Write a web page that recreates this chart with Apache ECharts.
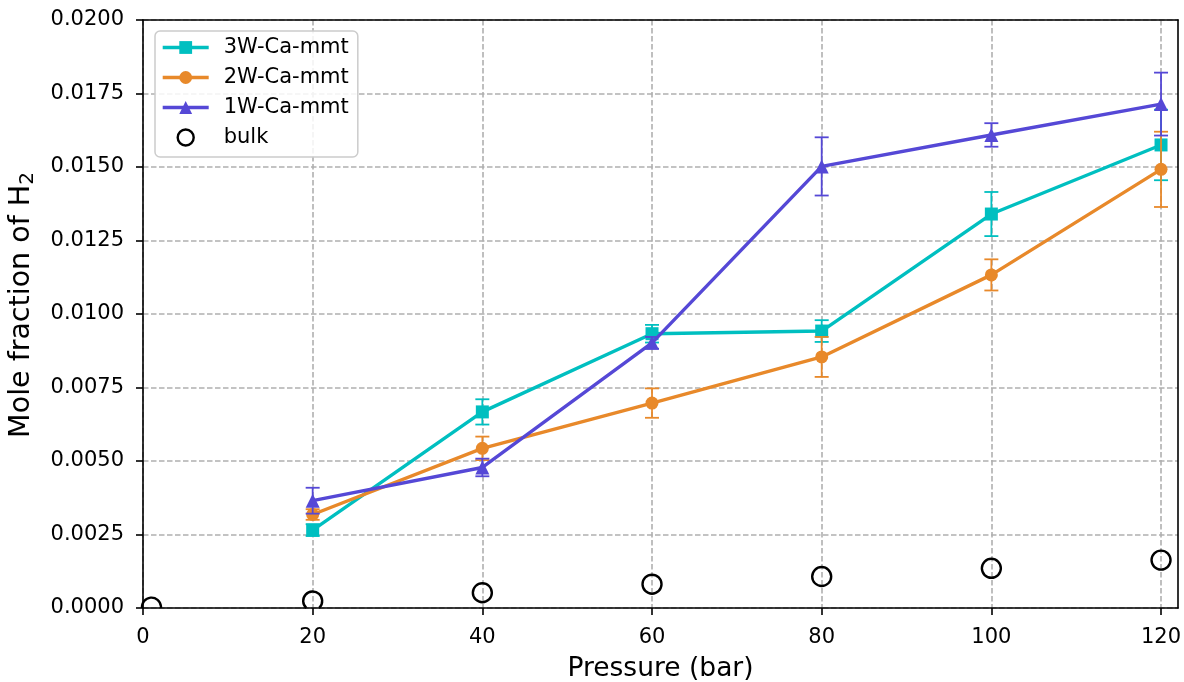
<!DOCTYPE html>
<html>
<head>
<meta charset="utf-8">
<title>Mole fraction of H2 vs pressure</title>
<script src="https://cdn.jsdelivr.net/npm/echarts@6/dist/echarts.min.js"></script>
<style>
  html, body { margin: 0; padding: 0; background: #fff; }
  #chart { width: 1184px; height: 682px; }
</style>
</head>
<body>
<div id="chart"></div>
<script>
// Pressure (bar) of the clay systems
const pressure = [20, 40, 60, 80, 100, 120];

// Mole fraction of H2 and its standard error, per hydration state
const w3 = [0.00265, 0.00667, 0.00933, 0.00942, 0.01340, 0.01575];
const w3Err = [0.00020, 0.00043, 0.00030, 0.00037, 0.00075, 0.00120];
const w2 = [0.00318, 0.00543, 0.00697, 0.00854, 0.01133, 0.01492];
const w2Err = [0.00018, 0.00040, 0.00050, 0.00068, 0.00053, 0.00128];
const w1 = [0.00365, 0.00478, 0.00902, 0.01502, 0.01609, 0.01714];
const w1Err = [0.00044, 0.00030, 0.00020, 0.00099, 0.00040, 0.00107];

// Bulk solubility reference
const bulkPressure = [1, 20, 40, 60, 80, 100, 120];
const bulk = [0.00003, 0.00024, 0.00052, 0.00081, 0.00107, 0.00135, 0.00163];

const xTicks = [0, 20, 40, 60, 80, 100, 120];
const seriesNames = ['3W-Ca-mmt', '2W-Ca-mmt', '1W-Ca-mmt', 'bulk'];

const COLORS = { w3: '#00bfc0', w2: '#e8892a', w1: '#5548d6' };
const FONT = 'DejaVu Sans';
const X_MIN = 0, X_MAX = 122, Y_MIN = 0, Y_MAX = 0.02;

function errorBarSeries(name, vals, errs, color, z) {
  return {
    type: 'custom',
    name: name + ' err',
    z: z,
    silent: true,
    encode: { x: 0, y: 1 },
    data: pressure.map((p, i) => [p, vals[i], errs[i]]),
    renderItem: function (params, api) {
      const x = api.value(0), y = api.value(1), e = api.value(2);
      const top = api.coord([x, y + e]);
      const bot = api.coord([x, y - e]);
      const half = 7;
      const st = { stroke: color, lineWidth: 1.8 };
      return {
        type: 'group',
        children: [
          { type: 'line', shape: { x1: top[0], y1: top[1], x2: bot[0], y2: bot[1] }, style: st },
          { type: 'line', shape: { x1: top[0] - half, y1: top[1], x2: top[0] + half, y2: top[1] }, style: st },
          { type: 'line', shape: { x1: bot[0] - half, y1: bot[1], x2: bot[0] + half, y2: bot[1] }, style: st }
        ]
      };
    }
  };
}

function lineSeries(name, vals, color, symbol, size, z) {
  return {
    type: 'line',
    name: name,
    z: z,
    data: pressure.map((p, i) => [p, vals[i]]),
    symbol: symbol,
    symbolSize: size,
    showAllSymbol: true,
    itemStyle: { color: color },
    lineStyle: { color: color, width: 3.4 },
    emphasis: { disabled: true }
  };
}

// Hollow circles, cut off at the bottom of the plotting area
const bulkSeries = {
  type: 'custom',
  name: 'bulk',
  z: 20,
  encode: { x: 0, y: 1 },
  data: bulkPressure.map((p, i) => [p, bulk[i]]),
  renderItem: function (params, api) {
    const c = api.coord([api.value(0), api.value(1)]);
    const r = 9.5;
    const yb = params.coordSys.y + params.coordSys.height;
    let start = 0, end = Math.PI * 2;
    if (c[1] + r > yb) {
      const a = Math.asin(Math.max(-1, Math.min(1, (yb - c[1]) / r)));
      start = Math.PI - a;
      end = Math.PI * 2 + a;
    }
    return {
      type: 'arc',
      shape: { cx: c[0], cy: c[1], r: r, startAngle: start, endAngle: end, clockwise: true },
      style: { stroke: '#000', lineWidth: 2.4, fill: null }
    };
  }
};

const frameLine = { show: true, onZero: false, lineStyle: { color: '#000', width: 1.6 } };
const gridLine = { show: true, lineStyle: { color: '#b0b0b0', width: 1.6, type: [5.5, 2.5] } };

const chart = echarts.init(document.getElementById('chart'), null, { renderer: 'canvas' });

chart.setOption({
  animation: false,
  textStyle: { fontFamily: FONT },
  grid: { left: 143, right: 6, top: 20, bottom: 74, outerBoundsMode: 'none', containLabel: false },
  legend: {
    orient: 'vertical',
    left: 155, top: 31,
    data: [
      { name: seriesNames[0] },
      { name: seriesNames[1] },
      { name: seriesNames[2] },
      { name: seriesNames[3], icon: 'circle', itemStyle: { color: '#fff', borderColor: '#000', borderWidth: 2.4 } }
    ],
    itemWidth: 46,
    itemHeight: 16,
    itemGap: 9,
    padding: [6, 9, 9, 6],
    backgroundColor: 'rgba(255,255,255,0.85)',
    borderColor: '#cccccc',
    borderWidth: 1.5,
    borderRadius: 5,
    lineStyle: { width: 3.4 },
    textStyle: { fontSize: 21, color: '#000', fontFamily: FONT, lineHeight: 21, padding: [0, 0, 0, 10] }
  },
  xAxis: [{
    type: 'value',
    min: X_MIN, max: X_MAX, interval: 20,
    name: 'Pressure (bar)',
    nameLocation: 'middle',
    nameGap: 48,
    nameTextStyle: { fontSize: 26.5, color: '#000', fontFamily: FONT },
    axisLine: frameLine,
    axisTick: { show: true, length: 7, customValues: xTicks, lineStyle: { color: '#000', width: 1.6 } },
    axisLabel: { fontSize: 21, color: '#000', margin: 19, customValues: xTicks, fontFamily: FONT },
    splitLine: gridLine
  }, {
    // top frame edge
    type: 'value', position: 'top', min: X_MIN, max: X_MAX, z: 5,
    axisLine: frameLine, axisTick: { show: false }, axisLabel: { show: false }, splitLine: { show: false }
  }],
  yAxis: [{
    type: 'value',
    min: Y_MIN, max: Y_MAX, interval: 0.0025,
    name: 'Mole fraction of H{sub|2}',
    nameLocation: 'middle',
    nameGap: 105,
    nameTextStyle: {
      fontSize: 28.5, color: '#000', fontFamily: FONT, lineHeight: 32, padding: [0, 0, 0, 18],
      rich: { sub: { fontSize: 20, lineHeight: 15, verticalAlign: 'bottom', color: '#000', fontFamily: FONT } }
    },
    axisLine: frameLine,
    axisTick: { show: true, length: 7, lineStyle: { color: '#000', width: 1.6 } },
    axisLabel: { fontSize: 21, color: '#000', margin: 19, fontFamily: FONT, formatter: v => v.toFixed(4) },
    splitLine: gridLine
  }, {
    // right frame edge
    type: 'value', position: 'right', min: Y_MIN, max: Y_MAX, z: 5,
    axisLine: frameLine, axisTick: { show: false }, axisLabel: { show: false }, splitLine: { show: false }
  }],
  series: [
    errorBarSeries(seriesNames[0], w3, w3Err, COLORS.w3, 2),
    lineSeries(seriesNames[0], w3, COLORS.w3, 'rect', 13, 3),
    errorBarSeries(seriesNames[1], w2, w2Err, COLORS.w2, 4),
    lineSeries(seriesNames[1], w2, COLORS.w2, 'circle', 13, 5),
    errorBarSeries(seriesNames[2], w1, w1Err, COLORS.w1, 6),
    lineSeries(seriesNames[2], w1, COLORS.w1, 'triangle', 14, 7),
    bulkSeries
  ]
});
</script>
</body>
</html>
